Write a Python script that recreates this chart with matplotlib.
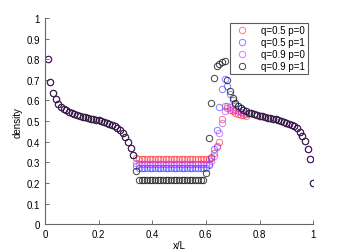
import numpy as np
import matplotlib
matplotlib.use("Agg")
import matplotlib.pyplot as plt

plt.rcParams['font.family'] = ['Liberation Sans', 'DejaVu Sans']

# lattice sites i = 1..100, x = i/L
L = 100
sites = np.arange(1, L + 1)

# left boundary layer (sites 1..33), same for all four runs
left = [0.80, 0.69, 0.635, 0.605, 0.585, 0.57, 0.56, 0.552, 0.545, 0.54,
        0.535, 0.53, 0.526, 0.522, 0.518, 0.515, 0.512, 0.509, 0.506, 0.503,
        0.50, 0.496, 0.492, 0.487, 0.482, 0.476, 0.468, 0.458, 0.444, 0.425,
        0.40, 0.37, 0.335]

# right boundary layer (sites 76..100), same for all four runs
right = [0.541, 0.537, 0.533, 0.529, 0.526, 0.523, 0.52, 0.517, 0.514, 0.511,
         0.508, 0.505, 0.501, 0.497, 0.492, 0.487, 0.481, 0.474, 0.465, 0.447,
         0.43, 0.405, 0.366, 0.315, 0.20]

# middle part (sites 34..75): plateau + jump, per run
mid_q05_p0 = [0.32] + [0.315] * 27 + [0.325, 0.345, 0.38, 0.40, 0.51, 0.575, 0.565,
                                      0.555, 0.547, 0.54, 0.535, 0.531, 0.528, 0.526]
mid_q05_p1 = [0.28] + [0.27] * 26 + [0.285, 0.32, 0.365, 0.455, 0.57, 0.655, 0.705,
                                     0.67, 0.63, 0.60, 0.585, 0.572, 0.562, 0.554, 0.547]
mid_q09_p0 = [0.295] + [0.29] * 27 + [0.305, 0.33, 0.375, 0.44, 0.49, 0.55, 0.575,
                                      0.57, 0.56, 0.553, 0.547, 0.542, 0.538, 0.535]
mid_q09_p1 = [0.26] + [0.215] * 25 + [0.25, 0.42, 0.59, 0.71, 0.765, 0.775, 0.785, 0.79,
                                      0.70, 0.645, 0.61, 0.59, 0.575, 0.565, 0.556, 0.548]

labels = ["q=0.5 p=0", "q=0.5 p=1", "q=0.9 p=0", "q=0.9 p=1"]
colors = ["#ff2020", "#3030ff", "#b030ff", "#202020"]
alphas = [0.6, 0.6, 0.6, 0.85]
mids = [mid_q05_p0, mid_q05_p1, mid_q09_p0, mid_q09_p1]

fig = plt.figure(figsize=(3.46, 2.53), dpi=100)
ax = fig.add_axes([0.13, 0.11, 0.775, 0.815])

for mid, lab, c, a in zip(mids, labels, colors, alphas):
    rho = np.array(left + mid + right)
    ax.plot(sites / L, rho, 'o', mfc='none', mec=c, ms=4.6, mew=0.7,
            alpha=a, label=lab)

ax.set_xlim(0, 1)
ax.set_ylim(0, 1)
ax.set_xticks([0, 0.2, 0.4, 0.6, 0.8, 1])
ax.set_xticklabels(["0", "0.2", "0.4", "0.6", "0.8", "1"])
ax.set_yticks(np.arange(0, 1.01, 0.1))
ax.set_yticklabels(["0", "0.1", "0.2", "0.3", "0.4", "0.5", "0.6", "0.7", "0.8", "0.9", "1"])
ax.tick_params(direction='in', length=3, width=0.6, labelsize=7, pad=3.5, colors='#555555',
               labelcolor='black')
for s in ['top', 'right']:
    ax.spines[s].set_visible(False)
for s in ['left', 'bottom']:
    ax.spines[s].set_color('#666666')
    ax.spines[s].set_linewidth(0.8)

ax.set_xlabel("x/L", fontsize=7, labelpad=1)
ax.set_ylabel("density", fontsize=7, labelpad=3)

leg = ax.legend(loc='upper right', fontsize=7, frameon=True, fancybox=False,
                edgecolor='#333333', borderpad=0.3, labelspacing=0.2,
                handletextpad=1.1, handlelength=1.8, borderaxespad=0,
                bbox_to_anchor=(0.981, 0.978))
leg.get_frame().set_linewidth(0.8)

fig.savefig("out.png", dpi=100)
